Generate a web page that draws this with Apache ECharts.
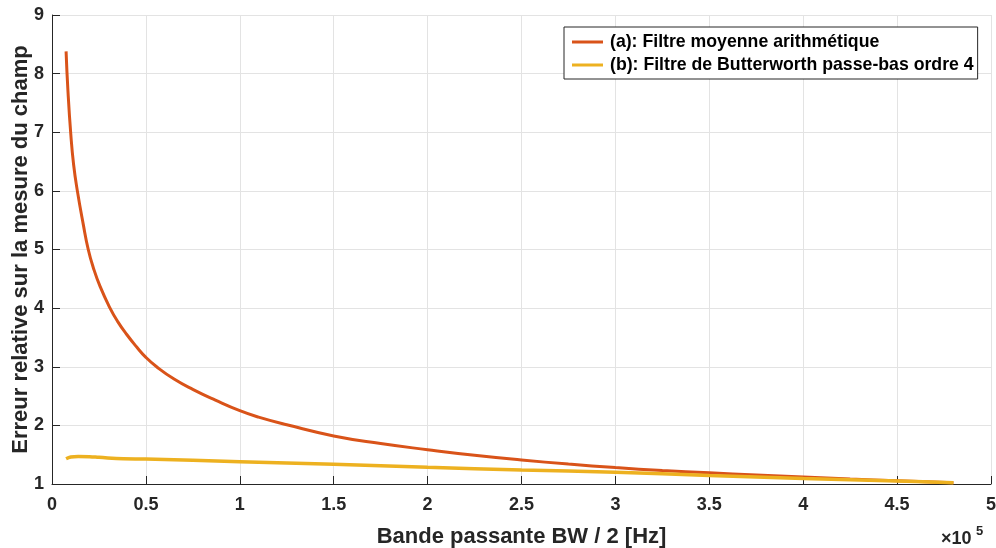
<!DOCTYPE html>
<html>
<head>
<meta charset="utf-8">
<script src="https://cdn.jsdelivr.net/npm/echarts@6/dist/echarts.min.js"></script>
<style>html,body{margin:0;padding:0;background:#fff}#c{width:996px;height:548px}</style>
</head>
<body>
<div id="c"></div>
<script>
// x values in units of 1e5 Hz
var xA = [0.075,0.085,0.1,0.115,0.135,0.167,0.193,0.22,0.256,0.309,0.35,0.398,0.45,0.5,0.557,0.65,0.752,0.87,1.0,1.1,1.25,1.5,1.75,2.0,2.25,2.5,2.75,3.0,3.25,3.5,3.75,4.0,4.25,4.5,4.8];
var yA = [8.38,7.7,6.97,6.45,6.0,5.42,5.0,4.69,4.37,4.0,3.77,3.55,3.34,3.16,3.0,2.79,2.61,2.43,2.25,2.14,2.01,1.82,1.69,1.585,1.49,1.41,1.34,1.28,1.23,1.19,1.155,1.12,1.085,1.055,1.02];
var xB = [0.075,0.1,0.14,0.2,0.25,0.38,0.5,1.0,1.5,2.0,2.5,3.0,3.5,4.0,4.5,4.8];
var yB = [1.43,1.46,1.47,1.465,1.455,1.43,1.425,1.38,1.335,1.285,1.24,1.20,1.145,1.095,1.05,1.02];
var nameA = '(a): Filtre moyenne arithmétique';
var nameB = '(b): Filtre de Butterworth passe-bas ordre 4';
var xTitle = 'Bande passante BW / 2 [Hz]';
var yTitle = 'Erreur relative sur la mesure du champ';

function pairs(xs, ys){ return xs.map(function(x,i){ return [x, ys[i]]; }); }
var FONT = 'Liberation Sans, Arial, sans-serif';
var chart = echarts.init(document.getElementById('c'), null, {renderer:'canvas'});
chart.setOption({
  animation:false,
  backgroundColor:'#fff',
  grid:{left:52, right:5, top:15, bottom:64, containLabel:false, outerBoundsMode:'none'},
  legend:{
    orient:'vertical', left:564, top:27,
    padding:[6,4,5,8], itemGap:5, itemWidth:31, itemHeight:3, icon:'rect',
    borderColor:'#262626', borderWidth:1, backgroundColor:'#fff',
    textStyle:{fontFamily:FONT, fontWeight:'bold', fontSize:17.7, color:'#000', padding:[0,0,0,2]},
    data:[nameA, nameB]
  },
  xAxis:{
    type:'value', min:0, max:5, interval:0.5,
    name:xTitle, nameLocation:'middle', nameGap:42, nameMoveOverlap:false,
    nameTextStyle:{fontFamily:FONT, fontWeight:'bold', fontSize:22, color:'#262626'},
    axisLine:{show:true, onZero:false, lineStyle:{color:'#262626', width:1}},
    axisTick:{show:true, inside:true, length:8, lineStyle:{color:'#262626'}},
    axisLabel:{fontFamily:FONT, fontWeight:'bold', fontSize:18, color:'#262626', margin:12},
    splitLine:{show:true, lineStyle:{color:'#e3e3e3', width:1}}
  },
  yAxis:{
    type:'value', min:1, max:9, interval:1,
    name:yTitle, nameLocation:'middle', nameGap:20, nameMoveOverlap:false,
    nameTextStyle:{fontFamily:FONT, fontWeight:'bold', fontSize:22, color:'#262626'},
    axisLine:{show:true, lineStyle:{color:'#262626', width:1}},
    axisTick:{show:true, inside:true, length:8, lineStyle:{color:'#262626'}},
    axisLabel:{fontFamily:FONT, fontWeight:'bold', fontSize:18, color:'#262626', margin:8},
    splitLine:{show:true, lineStyle:{color:'#e3e3e3', width:1}}
  },
  graphic:[
    {type:'text', left:941, top:530, style:{text:'×10', font:'bold 18px '+FONT, fill:'#262626'}},
    {type:'text', left:976, top:525, style:{text:'5', font:'bold 13px '+FONT, fill:'#262626'}}
  ],
  series:[
    {name:nameA, type:'line', data:pairs(xA,yA), showSymbol:false, symbol:'none', smooth:0.5,
     lineStyle:{color:'#D95319', width:3}, itemStyle:{color:'#D95319'}},
    {name:nameB, type:'line', data:pairs(xB,yB), showSymbol:false, symbol:'none', smooth:0.4,
     lineStyle:{color:'#EDB120', width:3.5}, itemStyle:{color:'#EDB120'}}
  ]
});
</script>
</body>
</html>
